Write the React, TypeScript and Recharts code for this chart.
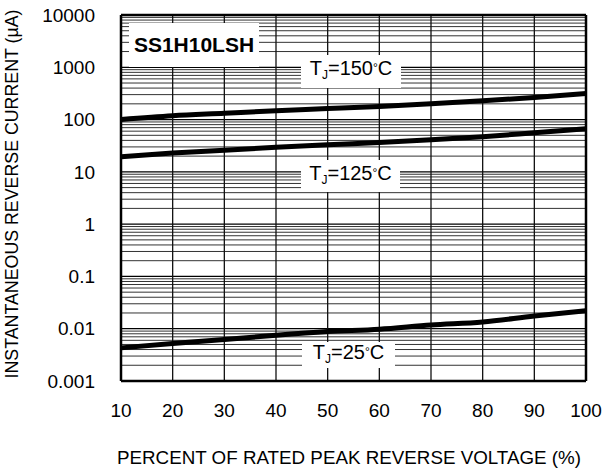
import React from "react"
import { LineChart, Line, XAxis, YAxis, ReferenceLine } from "recharts"

const voltage = [10, 20, 30, 40, 50, 60, 70, 80, 90, 100]
const tj150 = [100, 118, 132, 148, 162, 178, 200, 228, 265, 315]
const tj125 = [19.5, 23, 26, 29.5, 33, 36.5, 41, 47, 56, 67]
const tj25 = [0.0043, 0.0052, 0.0062, 0.0075, 0.0088, 0.0098, 0.0118, 0.0135, 0.0175, 0.022]

const xTicks = [10, 20, 30, 40, 50, 60, 70, 80, 90, 100]
const yTicks = [0.001, 0.01, 0.1, 1, 10, 100, 1000, 10000]
const yTickLabels = ["0.001", "0.01", "0.1", "1", "10", "100", "1000", "10000"]

// minor log grid, 2..9 in each decade
const minorValues: number[] = []
for (let d = 0; d < yTicks.length - 1; d++) {
  for (let m = 2; m <= 9; m++) minorValues.push(yTicks[d] * m)
}

const data = voltage.map((v, i) => ({ v, t150: tj150[i], t125: tj125[i], t25: tj25[i] }))

const font = "'Liberation Sans', Arial, sans-serif"

const boxStyle: React.CSSProperties = {
  position: "absolute",
  background: "#fff",
  fontFamily: font,
  color: "#000",
  whiteSpace: "nowrap",
  display: "flex",
  alignItems: "center",
  justifyContent: "center",
}

const TjLabel = ({ temp, left, top, width, height }: any) => (
  <div style={{ ...boxStyle, left, top, width, height, fontSize: 20 }}>
    <span style={{ lineHeight: "20px" }}>
      T<sub style={{ fontSize: 12, verticalAlign: "-4px" }}>J</sub>={temp}
      <span style={{ fontSize: 12, verticalAlign: "top" }}>°</span>C
    </span>
  </div>
)

export default function App() {
  return (
    <div style={{ position: "absolute", left: 0, top: 0, width: 605, height: 472, background: "#fff" }}>
      <LineChart
        width={605}
        height={472}
        data={data}
        margin={{ top: 15, right: 19, left: 61, bottom: 51 }}
      >
        {minorValues.map((t) => (
          <ReferenceLine key={"m" + t} y={t} stroke="#333" strokeWidth={1} />
        ))}
        {yTicks.map((t) => (
          <ReferenceLine key={t} y={t} stroke="#000" strokeWidth={1.3} />
        ))}
        {xTicks.map((t) => (
          <ReferenceLine key={"x" + t} x={t} stroke="#111" strokeWidth={1.3} />
        ))}
        <ReferenceLine y={10000} stroke="#000" strokeWidth={2.5} />
        <ReferenceLine x={100} stroke="#000" strokeWidth={2.5} />
        <XAxis
          dataKey="v"
          type="number"
          domain={[10, 100]}
          ticks={xTicks}
          height={40}
          tickLine={false}
          axisLine={{ stroke: "#000", strokeWidth: 2.5 }}
          tick={{ fill: "#000", fontSize: 19, fontFamily: font }}
          tickMargin={17}
        />
        <YAxis
          type="number"
          scale="log"
          domain={[0.001, 10000]}
          ticks={yTicks}
          allowDataOverflow
          width={60}
          tickLine={false}
          axisLine={{ stroke: "#000", strokeWidth: 2.5 }}
          tick={{ fill: "#000", fontSize: 19, fontFamily: font }}
          tickMargin={20}
          tickFormatter={(v: number) => yTickLabels[yTicks.indexOf(v)] ?? String(v)}
        />
        <Line dataKey="t150" stroke="#000" strokeWidth={5} dot={false} type="monotone" isAnimationActive={false} />
        <Line dataKey="t125" stroke="#000" strokeWidth={5} dot={false} type="monotone" isAnimationActive={false} />
        <Line dataKey="t25" stroke="#000" strokeWidth={5} dot={false} type="monotone" isAnimationActive={false} />
      </LineChart>

      <div style={{ ...boxStyle, left: 129, top: 23, width: 130, height: 44, fontSize: 21, fontWeight: "bold" }}>
        SS1H10LSH
      </div>
      <TjLabel temp="150" left={301} top={55} width={100} height={33} />
      <TjLabel temp="125" left={301} top={160} width={99} height={32} />
      <TjLabel temp="25" left={302} top={342} width={93} height={26} />

      <div
        style={{
          position: "absolute",
          left: 12,
          top: 194,
          transform: "translate(-50%, -50%) rotate(-90deg)",
          fontFamily: font,
          fontSize: 17.8,
          whiteSpace: "nowrap",
          color: "#000",
        }}
      >
        INSTANTANEOUS REVERSE CURRENT (µA)
      </div>
      <div
        style={{
          position: "absolute",
          left: 349,
          top: 458,
          transform: "translate(-50%, -50%)",
          fontFamily: font,
          fontSize: 18.8,
          whiteSpace: "nowrap",
          color: "#000",
        }}
      >
        PERCENT OF RATED PEAK REVERSE VOLTAGE (%)
      </div>
    </div>
  )
}
